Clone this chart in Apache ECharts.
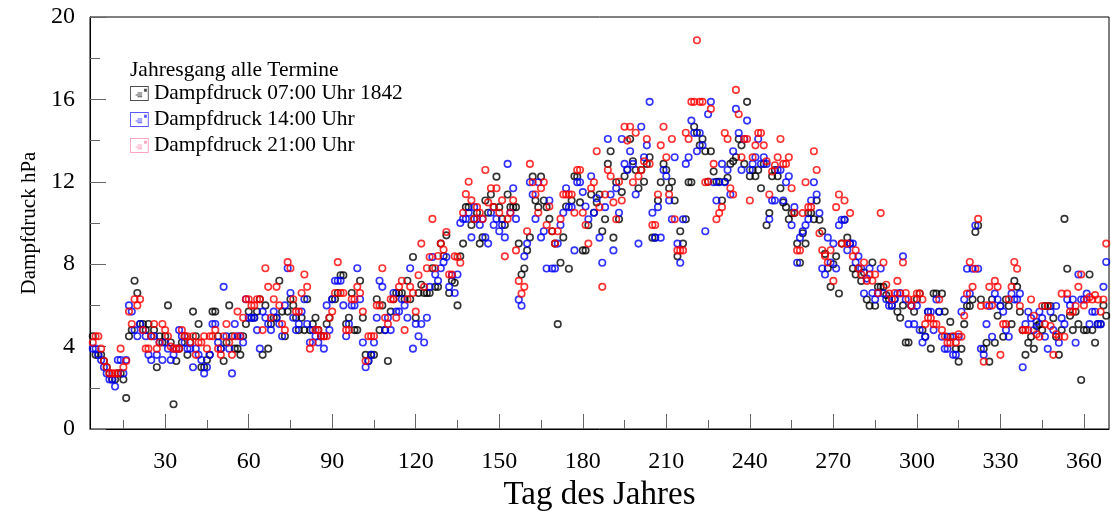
<!DOCTYPE html>
<html>
<head>
<meta charset="utf-8">
<script src="https://cdn.jsdelivr.net/npm/echarts@6/dist/echarts.min.js"></script>
<style>
  html, body { margin: 0; padding: 0; background: #fff; }
  #chart { width: 1111px; height: 511px; }
</style>
</head>
<body>
<div id="chart"></div>
<script>
// Daily vapour pressure (hPa) for the three observation times, day of year starting at firstDay
const firstDay = 4;

const vp07 = [
  4.5, 3.6, 3.6, 3.6, 3.3, 3.0, 2.7, 2.4, 2.4, 2.7,
  2.7, 2.4, 1.5, 4.5, 4.8, 7.2, 6.6, 5.1, 5.1, 4.8,
  5.1, 4.5, 4.8, 3.0, 4.5, 4.2, 4.5, 6.0, 4.2, 1.2,
  3.3, 3.9, 4.2, 4.5, 3.6, 4.2, 5.7, 4.5, 5.1, 3.0,
  3.0, 3.35, 3.6, 5.7, 5.7, 4.5, 3.9, 3.3, 4.2, 6.0,
  4.5, 3.9, 3.9, 3.6, 4.5, 5.1, 5.7, 5.4, 5.4, 5.7,
  6.3, 3.6, 6.0, 3.9, 5.1, 5.4, 5.4, 7.2, 5.7, 4.5,
  5.7, 6.3, 6.0, 5.4, 4.8, 5.4, 4.8, 6.3, 4.8, 5.1,
  5.4, 4.8, 4.5, 4.5, 5.1, 5.4, 6.3, 6.3, 6.6, 7.46,
  7.46, 5.1, 5.4, 6.6, 4.8, 4.8, 7.2, 5.4, 3.6, 3.3,
  3.6, 3.6, 6.3, 4.8, 6.0, 4.8, 3.3, 5.7, 6.3, 6.6,
  6.6, 6.6, 6.3, 7.2, 6.3, 8.35, 5.4, 6.6, 7.0, 6.6,
  6.6, 6.6, 7.8, 6.9, 6.9, 9.0, 8.4, 9.4, 6.6, 7.2,
  7.1, 6.0, 8.38, 9.0, 10.77, 10.77, 9.9, 10.2, 10.5, 9.0,
  9.3, 11.09, 10.5, 11.38, 10.77, 12.25, 10.77, 10.2, 9.9, 11.38,
  10.77, 10.77, 10.77, 9.0, 7.5, 7.79, 8.67, 9.3, 12.25, 11.09,
  10.77, 12.25, 11.09, 10.77, 10.2, 9.6, 9.0, 5.09, 8.07, 9.3,
  10.8, 7.78, 11.09, 12.27, 12.25, 11.0, 8.67, 8.67, 9.89, 11.38,
  10.5, 11.0, 11.38, 9.6, 10.18, 12.87, 13.48, 9.29, 11.98, 10.18,
  11.5, 12.27, 12.6, 14.08, 13.0, 12.57, 11.69, 12.57, 12.0, 12.87,
  13.19, 9.29, 9.29, 11.09, 11.98, 12.87, 12.57, 11.69, 12.0, 11.09,
  8.38, 9.6, 9.0, 10.18, 11.98, 11.98, 14.67, 14.38, 13.77, 14.08,
  13.48, 12.0, 13.48, 12.5, 12.0, 12.0, 11.09, 12.0, 12.2, 12.87,
  13.0, 13.19, 14.08, 13.77, 12.87, 15.88, 12.27, 12.57, 12.27, 12.57,
  11.69, 12.87, 9.89, 10.48, 12.27, 12.57, 12.27, 11.69, 11.0, 10.77,
  10.18, 10.48, 10.48, 9.0, 8.07, 9.5, 9.0, 10.48, 10.48, 10.18,
  11.09, 10.16, 9.6, 8.5, 7.8, 6.9, 8.0, 8.38, 6.58, 9.0,
  10.16, 9.29, 9.0, 7.79, 7.5, 7.79, 7.19, 7.6, 6.29, 5.98,
  8.08, 5.98, 6.9, 6.9, 6.9, 6.5, 6.29, 6.0, 6.3, 5.69,
  5.4, 6.0, 4.2, 4.2, 5.98, 5.69, 6.3, 6.58, 4.8, 4.48,
  5.69, 3.9, 6.58, 6.57, 5.69, 6.57, 5.7, 4.48, 5.2, 4.48,
  3.89, 3.27, 3.89, 5.09, 5.97, 5.97, 6.29, 9.56, 9.88, 6.29,
  3.89, 4.19, 3.27, 6.29, 4.19, 5.5, 5.97, 4.48, 6.29, 5.97,
  5.09, 7.19, 6.9, 5.69, 4.8, 3.6, 4.19, 4.48, 3.89, 5.0,
  5.09, 4.8, 5.97, 5.97, 5.97, 5.38, 4.48, 3.6, 4.8, 10.2,
  7.78, 5.5, 4.8, 5.69, 5.09, 2.38, 4.8, 4.8, 7.5, 4.8,
  4.19, 5.09, 5.09, 6.0, 5.5
];

const vp14 = [
  3.9, 3.9, 3.6, 3.35, 3.0, 2.7, 2.4, 2.4, 2.06, 3.35,
  3.35, 2.7, 3.35, 6.0, 5.7, 4.8, 4.5, 5.1, 4.8, 4.5,
  3.6, 3.35, 4.5, 3.6, 4.2, 3.35, 4.2, 3.9, 3.35, 3.6,
  3.9, 4.8, 4.5, 4.2, 3.9, 3.9, 3.0, 3.9, 3.6, 3.35,
  2.7, 3.0, 3.6, 5.1, 5.1, 4.2, 3.9, 6.9, 4.5, 3.9,
  2.7, 5.1, 4.5, 4.5, 4.2, 6.3, 5.4, 5.4, 5.4, 4.8,
  3.9, 5.7, 5.4, 5.1, 4.8, 5.7, 5.4, 5.1, 4.5, 6.0,
  7.8, 6.6, 5.4, 4.8, 5.1, 5.7, 6.3, 5.1, 4.2, 4.8,
  4.5, 4.2, 4.5, 3.9, 6.0, 4.8, 6.3, 7.2, 7.2, 7.2,
  6.0, 4.5, 5.1, 6.0, 6.0, 7.8, 6.3, 4.2, 3.0, 3.3,
  3.6, 4.2, 5.4, 7.2, 6.9, 4.8, 5.4, 4.8, 6.6, 5.7,
  5.7, 6.3, 6.0, 5.4, 7.8, 3.9, 5.1, 4.5, 5.1, 4.2,
  5.4, 6.9, 8.35, 7.5, 7.2, 7.8, 8.1, 8.35, 6.9, 7.46,
  6.6, 7.5, 10.0, 10.2, 10.2, 10.5, 9.3, 10.77, 10.2, 9.9,
  10.2, 9.3, 9.0, 10.5, 9.9, 10.2, 9.6, 9.9, 9.3, 12.87,
  10.5, 11.69, 10.2, 6.28, 5.98, 8.38, 9.0, 11.98, 11.38, 10.2,
  11.98, 9.3, 9.6, 7.79, 11.09, 7.79, 7.79, 9.0, 9.9, 10.5,
  11.69, 10.77, 10.77, 8.67, 11.98, 11.98, 11.5, 10.8, 10.18, 12.27,
  10.5, 11.2, 9.29, 8.07, 10.77, 14.08, 11.38, 8.67, 11.69, 10.5,
  14.08, 12.87, 12.57, 13.48, 12.87, 11.38, 9.0, 14.67, 13.19, 13.77,
  15.88, 10.5, 9.29, 10.77, 9.29, 12.57, 12.27, 11.09, 10.18, 13.19,
  9.0, 8.07, 10.18, 12.87, 13.19, 14.97, 14.37, 13.48, 14.37, 13.77,
  9.6, 15.28, 15.88, 11.98, 11.09, 11.98, 12.87, 11.98, 12.57, 11.38,
  13.48, 15.54, 14.37, 12.57, 14.08, 14.97, 12.57, 12.87, 13.19, 14.08,
  12.87, 13.19, 12.87, 10.18, 11.09, 11.09, 12.57, 12.57, 11.09, 11.98,
  12.27, 9.89, 10.77, 8.07, 9.29, 9.6, 9.89, 10.18, 11.09, 11.98,
  11.38, 10.48, 7.79, 7.5, 9.29, 8.08, 9.0, 7.79, 9.89, 10.16,
  10.16, 8.68, 9.0, 9.0, 8.08, 8.38, 7.79, 6.58, 7.3, 7.79,
  6.6, 6.29, 6.58, 7.79, 6.58, 6.3, 5.98, 5.98, 6.3, 6.58,
  6.6, 8.38, 6.29, 5.09, 5.98, 5.09, 5.98, 4.8, 4.2, 4.48,
  5.69, 5.69, 4.8, 6.29, 5.69, 4.48, 3.89, 3.89, 4.48, 3.6,
  3.6, 4.48, 5.69, 6.29, 7.78, 6.57, 7.78, 9.88, 7.78, 3.89,
  3.6, 5.09, 5.97, 4.48, 6.57, 6.29, 5.97, 5.69, 4.8, 4.48,
  6.57, 6.29, 6.29, 6.57, 3.0, 5.09, 5.69, 5.38, 4.8, 5.2,
  5.69, 5.38, 4.48, 3.89, 5.69, 4.8, 5.97, 4.19, 5.38, 5.09,
  6.29, 6.0, 6.29, 4.19, 7.5, 6.29, 6.29, 6.57, 5.09, 5.69,
  5.69, 5.09, 5.09, 6.9, 8.11
];

const vp21 = [
  4.2, 4.5, 4.5, 3.9, 3.3, 3.0, 2.7, 2.7, 2.7, 2.7,
  3.9, 3.0, 3.3, 5.7, 5.1, 6.3, 6.0, 6.3, 4.8, 3.9,
  3.9, 4.5, 5.1, 3.9, 4.2, 5.1, 4.8, 4.5, 4.0, 3.9,
  3.9, 3.9, 4.8, 4.5, 4.5, 4.2, 4.5, 3.6, 4.2, 4.2,
  4.5, 3.9, 4.5, 4.5, 4.8, 3.9, 3.6, 4.5, 5.1, 4.2,
  3.6, 4.5, 5.7, 4.5, 5.4, 6.3, 6.3, 6.0, 6.0, 6.3,
  6.3, 4.8, 7.8, 6.9, 5.4, 6.3, 6.9, 6.0, 5.1, 4.8,
  8.1, 7.8, 6.3, 5.7, 5.7, 6.6, 7.5, 6.9, 3.9, 4.2,
  4.8, 4.8, 4.5, 4.5, 4.5, 5.4, 5.7, 6.6, 8.1, 6.6,
  6.6, 4.8, 4.8, 6.3, 6.3, 6.9, 6.6, 5.7, 3.3, 4.5,
  4.5, 4.5, 6.0, 6.0, 7.8, 5.4, 5.1, 6.3, 6.3, 5.4,
  6.9, 7.2, 4.8, 6.3, 6.9, 6.6, 5.7, 7.46, 9.0, 6.9,
  7.8, 8.35, 10.2, 7.8, 8.4, 9.0, 8.7, 9.56, 7.5, 7.5,
  8.38, 8.35, 8.07, 10.5, 11.4, 12.0, 11.1, 10.2, 10.77, 10.5,
  10.2, 12.57, 11.0, 11.69, 10.77, 11.69, 10.5, 11.1, 8.38, 10.2,
  10.5, 11.1, 8.67, 7.19, 6.57, 6.9, 9.6, 12.87, 11.98, 11.38,
  10.5, 11.69, 11.98, 9.9, 10.8, 9.6, 9.0, 9.6, 10.2, 11.38,
  11.38, 11.38, 11.38, 10.5, 12.57, 12.57, 10.5, 9.9, 9.0, 11.69,
  11.98, 13.48, 10.77, 6.9, 11.38, 12.57, 12.27, 11.0, 10.18, 12.0,
  11.09, 14.67, 14.0, 14.67, 11.98, 14.38, 12.27, 12.57, 13.0, 14.08,
  12.87, 9.9, 9.9, 11.38, 13.77, 14.67, 13.19, 11.38, 14.08, 10.18,
  8.67, 8.67, 8.67, 14.38, 14.08, 15.88, 15.88, 18.87, 15.88, 15.88,
  11.98, 12.0, 15.54, 12.87, 10.18, 10.48, 10.77, 14.37, 14.08, 11.69,
  11.38, 16.46, 15.28, 13.19, 14.08, 14.08, 11.09, 13.19, 13.77, 14.37,
  14.37, 13.77, 13.0, 11.38, 12.5, 12.8, 13.19, 14.08, 12.87, 12.87,
  13.19, 11.69, 10.5, 8.67, 8.67, 10.48, 11.98, 10.77, 10.77, 13.48,
  12.57, 9.5, 8.68, 8.4, 8.08, 8.68, 7.19, 10.77, 11.38, 9.0,
  11.09, 9.0, 10.48, 8.38, 8.68, 7.8, 7.5, 8.08, 7.19, 7.5,
  7.2, 7.5, 6.6, 10.48, 8.08, 7.0, 6.58, 6.3, 6.6, 7.19,
  6.58, 8.08, 6.6, 6.3, 5.98, 6.3, 6.58, 6.58, 6.29, 5.09,
  5.4, 5.38, 5.09, 5.09, 6.29, 4.8, 4.5, 4.19, 4.19, 4.5,
  4.2, 4.6, 4.48, 5.5, 6.57, 8.11, 6.9, 7.78, 10.2, 5.97,
  3.27, 6.0, 6.9, 6.0, 7.19, 6.9, 3.6, 5.09, 5.09, 6.3,
  6.9, 8.11, 7.78, 5.97, 4.8, 4.8, 4.8, 6.29, 5.5, 4.6,
  4.48, 5.97, 5.09, 5.97, 5.0, 3.6, 4.6, 4.48, 6.57, 4.48,
  6.57, 5.69, 5.69, 5.97, 6.9, 7.5, 6.0, 6.29, 6.4, 6.29,
  6.5, 6.29, 5.69, 6.29, 9.0
];

const seriesNames = ['Dampfdruck 07:00 Uhr 1842', 'Dampfdruck 14:00 Uhr', 'Dampfdruck 21:00 Uhr'];
const legendTitle = 'Jahresgang alle Termine';
const xTitle = 'Tag des Jahres';
const yTitle = 'Dampfdruck hPa';
const xLabelTicks = [30, 60, 90, 120, 150, 180, 210, 240, 270, 300, 330, 360];
const xMinorTicks = [15, 45, 75, 105, 135, 165, 195, 225, 255, 285, 315, 345];

const seriesColors = ['#000000', '#0000ff', '#ff0000'];
const legendColors = ['#222222', '#3030ff', '#ff8fb0'];
const FONT = '"Liberation Serif", "Times New Roman", serif';

// small "note" glyph used as legend marker: framed box, dot in the corner, three text lines
const noteIcon = 'path://M0,0H20V16H0Z M1,1V15H19V1Z M15,3H18V6H15Z M8,7H13V8H8Z M6,9H13V10H6Z M8,11H13V12H8Z';

const toPoints = arr => arr.map((v, i) => [firstDay + i, v]);
const allValues = [vp07, vp14, vp21];

const chart = echarts.init(document.getElementById('chart'), null, { renderer: 'canvas' });

chart.setOption({
  animation: false,
  backgroundColor: '#ffffff',
  textStyle: { fontFamily: FONT },
  title: {
    text: legendTitle,
    left: 130,
    top: 59,
    padding: 0,
    textStyle: { fontFamily: FONT, fontSize: 21.5, fontWeight: 'normal', color: '#000' }
  },
  legend: {
    orient: 'vertical',
    left: 130,
    top: 83,
    padding: 0,
    itemWidth: 19,
    itemHeight: 15,
    itemGap: 5,
    selectedMode: false,
    textStyle: { fontFamily: FONT, fontSize: 21.4, color: '#000', lineHeight: 21, padding: [0, 0, 0, 0] },
    data: seriesNames.map((n, i) => ({
      name: n,
      icon: noteIcon,
      itemStyle: { color: legendColors[i], borderWidth: 0 }
    }))
  },
  grid: {
    left: 90,
    right: 2,
    top: 17,
    bottom: 82,
    containLabel: false,
    outerBoundsMode: 'none',
    show: true,
    borderColor: '#000',
    borderWidth: 1,
    backgroundColor: 'transparent'
  },
  xAxis: [
    {
      type: 'value',
      min: 3,
      max: 369,
      position: 'bottom',
      name: xTitle,
      nameLocation: 'middle',
      nameGap: 45,
      nameTextStyle: { fontFamily: FONT, fontSize: 33, color: '#000', verticalAlign: 'top' },
      axisLine: { show: true, lineStyle: { color: '#000', width: 1 } },
      axisTick: { show: true, inside: true, length: 15, customValues: xLabelTicks, lineStyle: { color: '#666', width: 1 } },
      axisLabel: { show: true, customValues: xLabelTicks, fontFamily: FONT, fontSize: 24, color: '#000', margin: 21 },
      splitLine: { show: false }
    },
    {
      type: 'value',
      min: 3,
      max: 369,
      position: 'bottom',
      axisLine: { show: false },
      axisTick: { show: true, inside: true, length: 9, customValues: xMinorTicks, lineStyle: { color: '#666', width: 1 } },
      axisLabel: { show: false },
      splitLine: { show: false }
    }
  ],
  yAxis: {
    type: 'value',
    min: 0,
    max: 20,
    interval: 4,
    name: yTitle,
    nameLocation: 'middle',
    nameGap: 48,
    nameRotate: 90,
    nameTextStyle: { fontFamily: FONT, fontSize: 21, color: '#000' },
    axisLine: { show: true, lineStyle: { color: '#000', width: 1 } },
    axisTick: { show: true, inside: true, length: 16, lineStyle: { color: '#666', width: 1 } },
    minorTick: { show: true, splitNumber: 2, length: 10, lineStyle: { color: '#666', width: 1 } },
    axisLabel: { fontFamily: FONT, fontSize: 24, color: '#000', margin: 15 },
    splitLine: { show: false },
    minorSplitLine: { show: false }
  },
  series: allValues.map((vals, i) => ({
    name: seriesNames[i],
    type: 'scatter',
    xAxisIndex: 0,
    yAxisIndex: 0,
    data: toPoints(vals),
    symbol: 'circle',
    symbolSize: 6.5,
    silent: true,
    z: 2 + i,
    itemStyle: { color: 'rgba(255,255,255,0)', borderColor: seriesColors[i], borderWidth: 1.6 }
  }))
});
</script>
</body>
</html>
